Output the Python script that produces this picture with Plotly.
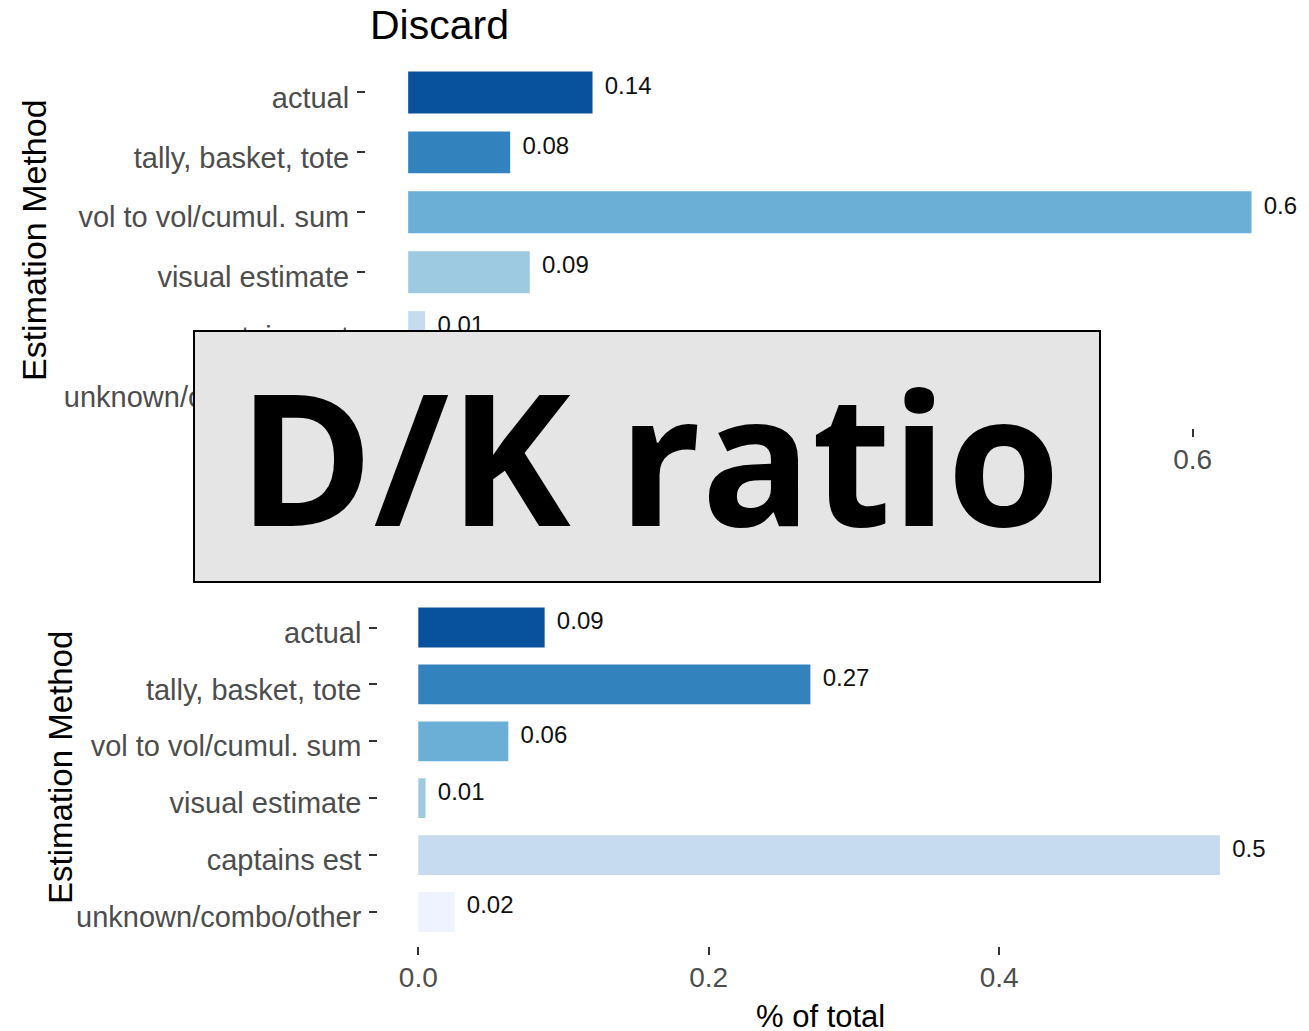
import plotly.graph_objects as go

W, H = 1309, 1031

categories = ["actual", "tally, basket, tote", "vol to vol/cumul. sum",
              "visual estimate", "captains est", "unknown/combo/other"]
bar_colors = ["#08519c", "#3182bd", "#6baed6", "#9ecae1", "#c6dbef", "#eff3ff"]

discard_values = [0.141, 0.078, 0.645, 0.093, 0.013, 0.03]
discard_labels = ["0.14", "0.08", "0.6", "0.09", "0.01", "0.03"]

kept_values = [0.087, 0.270, 0.062, 0.005, 0.552, 0.025]
kept_labels = ["0.09", "0.27", "0.06", "0.01", "0.5", "0.02"]

x_ticks = [0.0, 0.2, 0.4, 0.6]
x_ticktext = ["0.0", "0.2", "0.4", "0.6"]

pos = list(range(len(categories)))[::-1]  # actual on top

def px_x(p):
    return p / W

def px_y(p):
    return (H - p) / H

fig = go.Figure()

panels = [
    dict(vals=discard_values, labs=discard_labels, xa="x", ya="y",
         xdom=[366, 1293.7], ydom=[56.5, 428]),
    dict(vals=kept_values, labs=kept_labels, xa="x2", ya="y2",
         xdom=[378.2, 1260], ydom=[593.4, 946.1]),
]

SANS = "Liberation Sans, Arial, sans-serif"
YTICKFONT = dict(family=SANS, size=29, color="#4d4d4d")
XTICKFONT = dict(family=SANS, size=28, color="#4d4d4d")

for i, p in enumerate(panels):
    fig.add_trace(go.Bar(
        x=p["vals"], y=pos, orientation="h", width=0.7,
        marker=dict(color=bar_colors, line=dict(width=0)),
        xaxis=p["xa"], yaxis=p["ya"], showlegend=False, hoverinfo="skip",
    ))
    fig.add_trace(go.Scatter(
        x=p["vals"], y=[v + 0.08 for v in pos], mode="markers+text",
        text=p["labs"], textposition="middle right",
        marker=dict(size=18, opacity=0),
        textfont=dict(family=SANS, size=24, color="#111111"),
        cliponaxis=False, xaxis=p["xa"], yaxis=p["ya"], showlegend=False, hoverinfo="skip",
    ))
    vmax = max(p["vals"])
    xr = [-0.05 * vmax, 1.05 * vmax]
    sfx = "" if i == 0 else "2"
    fig.layout["xaxis" + sfx] = dict(
        domain=[px_x(p["xdom"][0]), px_x(p["xdom"][1])], range=xr,
        anchor="y" + sfx, tickvals=x_ticks, ticktext=x_ticktext,
        ticks="outside", ticklen=8, tickwidth=1.5, tickcolor="#333333",
        showgrid=False, zeroline=False, showline=False,
        tickfont=XTICKFONT, ticklabelstandoff=-2,
    )
    fig.layout["yaxis" + sfx] = dict(
        domain=[px_y(p["ydom"][1]), px_y(p["ydom"][0])], range=[-0.6, 5.6],
        anchor="x" + sfx, tickvals=pos, ticktext=categories,
        ticks="outside", ticklen=8, tickwidth=1.5, tickcolor="#333333",
        showgrid=False, zeroline=False, showline=False,
        tickfont=YTICKFONT, ticklabelstandoff=2, ticklabelshift=5,
    )

annotations = [
    dict(text="Discard", x=px_x(368), y=px_y(25), xanchor="left", yanchor="middle",
         font=dict(family=SANS, size=41, color="#000000")),
    dict(text="Estimation Method", x=px_x(34), y=px_y(240), textangle=-90,
         xanchor="center", yanchor="middle",
         font=dict(family=SANS, size=34, color="#000000")),
    dict(text="Estimation Method", x=px_x(61), y=px_y(768), textangle=-90,
         xanchor="center", yanchor="middle",
         font=dict(family=SANS, size=33, color="#000000")),
    dict(text="% of total", x=px_x(820), y=px_y(1016), xanchor="center", yanchor="middle",
         font=dict(family=SANS, size=31, color="#000000")),
    dict(text="D/K ratio", x=px_x(649), y=px_y(455), xanchor="center", yanchor="middle",
         font=dict(family="Open Sans, sans-serif", size=183, color="#000000", weight="bold")),
]
for a in annotations:
    a.update(xref="paper", yref="paper", showarrow=False)

fig.update_layout(
    width=W, height=H, margin=dict(l=0, r=0, t=0, b=0),
    paper_bgcolor="white", plot_bgcolor="white",
    annotations=annotations,
    shapes=[dict(type="rect", xref="paper", yref="paper",
                 x0=px_x(194), x1=px_x(1100), y0=px_y(582), y1=px_y(331),
                 fillcolor="#e5e5e5", line=dict(color="#000000", width=2), layer="above")],
)

fig.write_html("out.html", config={"displayModeBar": False},
               post_script="document.body.style.margin='0';")
